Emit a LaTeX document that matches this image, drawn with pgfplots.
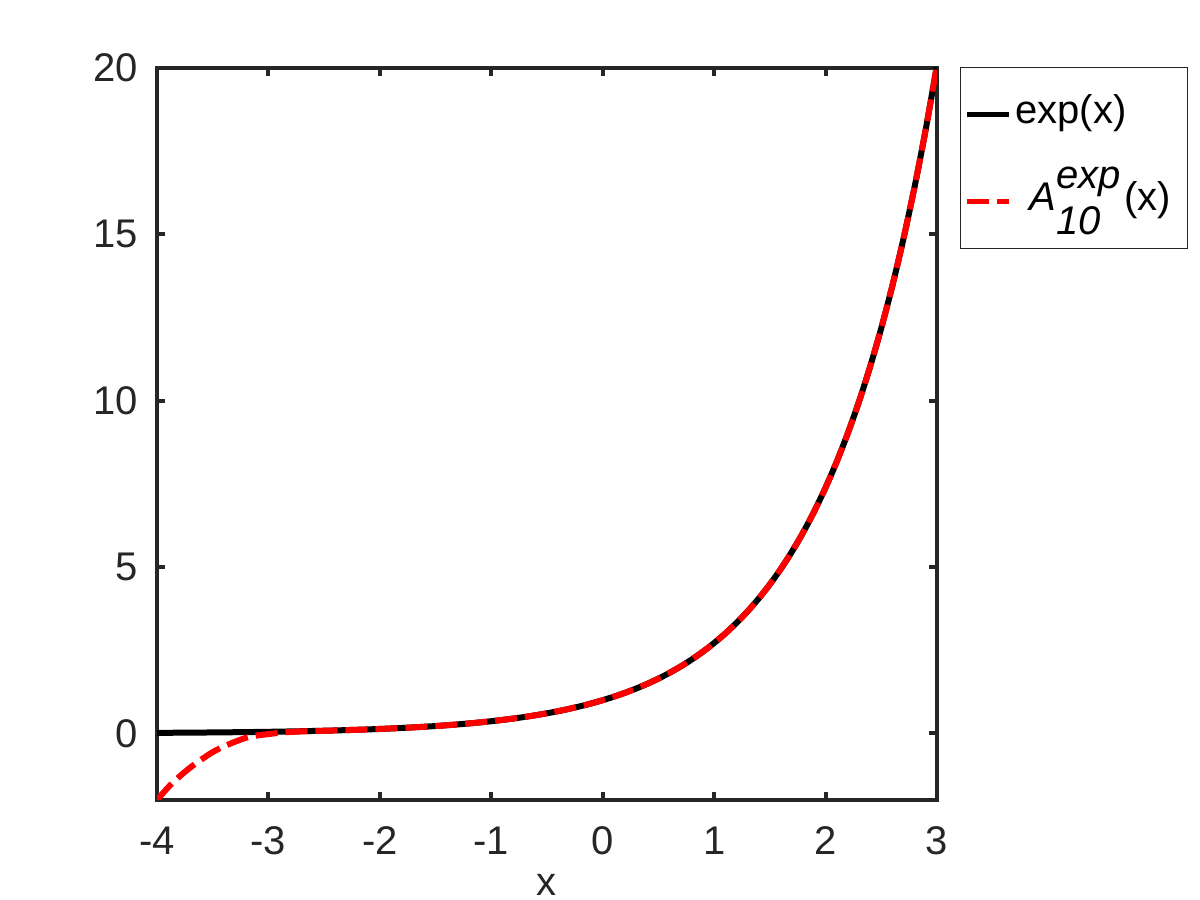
\documentclass[border=0pt]{standalone}
\usepackage{fontspec}
\setmainfont{Liberation Sans}
\usepackage{pgfplots}
\usepackage{pgfplotstable}
\pgfplotsset{compat=1.18}
\definecolor{axgray}{HTML}{262626}
\pgfplotstableread{
x e a
-4.0 0.0183 -2.00
-3.9 0.0202 -1.62
-3.8 0.0224 -1.30
-3.7 0.0247 -1.02
-3.6 0.0273 -0.78
-3.5 0.0302 -0.56
-3.4 0.0334 -0.39
-3.3 0.0369 -0.25
-3.2 0.0408 -0.13
-3.1 0.0450 -0.06
-3.0 0.0498 -0.02
-2.9 0.0550 0.020
-2.8 0.0608 0.045
-2.7 0.0672 0.061
-2.6 0.0743 0.073
-2.5 0.0821 0.0821
-2.4 0.0907 0.0907
-2.3 0.1003 0.1003
-2.2 0.1108 0.1108
-2.1 0.1225 0.1225
-2.0 0.1353 0.1353
-1.9 0.1496 0.1496
-1.8 0.1653 0.1653
-1.7 0.1827 0.1827
-1.6 0.2019 0.2019
-1.5 0.2231 0.2231
-1.4 0.2466 0.2466
-1.3 0.2725 0.2725
-1.2 0.3012 0.3012
-1.1 0.3329 0.3329
-1.0 0.3679 0.3679
-0.9 0.4066 0.4066
-0.8 0.4493 0.4493
-0.7 0.4966 0.4966
-0.6 0.5488 0.5488
-0.5 0.6065 0.6065
-0.4 0.6703 0.6703
-0.3 0.7408 0.7408
-0.2 0.8187 0.8187
-0.1 0.9048 0.9048
0.0 1.0000 1.0000
0.1 1.1052 1.1052
0.2 1.2214 1.2214
0.3 1.3499 1.3499
0.4 1.4918 1.4918
0.5 1.6487 1.6487
0.6 1.8221 1.8221
0.7 2.0138 2.0138
0.8 2.2255 2.2255
0.9 2.4596 2.4596
1.0 2.7183 2.7183
1.1 3.0042 3.0042
1.2 3.3201 3.3201
1.3 3.6693 3.6693
1.4 4.0552 4.0552
1.5 4.4817 4.4817
1.6 4.9530 4.9530
1.7 5.4739 5.4739
1.8 6.0496 6.0496
1.9 6.6859 6.6859
2.0 7.3891 7.3891
2.1 8.1662 8.1662
2.2 9.0250 9.0250
2.3 9.9742 9.9742
2.4 11.0232 11.0232
2.5 12.1825 12.1825
2.6 13.4637 13.4637
2.7 14.8797 14.8797
2.8 16.4446 16.4446
2.9 18.1741 18.1741
3.0 20.0855 20.0855
}\datatable
\begin{document}
\begin{tikzpicture}
\path[use as bounding box] (0pt,0pt) rectangle (600pt,450pt);
\begin{axis}[
  at={(78.5pt,50pt)}, anchor=south west,
  scale only axis, width=390pt, height=366pt,
  xmin=-4, xmax=3, ymin=-2, ymax=20,
  xtick={-4,-3,-2,-1,0,1,2,3},
  ytick={0,5,10,15,20},
  tick align=inside,
  major tick length=4pt,
  axis line style={axgray, line width=2pt},
  every tick/.style={axgray, line width=2pt},
  tick label style={font=\fontsize{20}{24}\selectfont, text=axgray},
  /pgf/number format/assume math mode=true,
  yticklabel style={xshift=-6pt},
  xticklabel style={yshift=-10pt},
  xlabel={x},
  xlabel style={font=\fontsize{20}{24}\selectfont, text=axgray, inner sep=0pt, at={(axis description cs:0.5,0)}, anchor=base, yshift=-48pt},
  legend style={at={(1.0295,1.001)}, anchor=north west, draw=axgray, line width=0.5pt,
     font=\fontsize{20}{24}\selectfont, inner xsep=2pt, inner ysep=9pt, row sep=14.5pt,
     cells={anchor=base west},
     nodes={inner xsep=2pt, inner ysep=0pt, text height=19pt, text depth=10pt}},
  legend image code/.code={\draw[#1, line width=2.5pt] (0pt,4.5pt) -- (21pt,4.5pt);},
  clip=true,
]
\addplot[black, line width=3pt, smooth] table[x=x, y=e] {\datatable};
\addlegendentry{exp(x)}
\addplot[red, line width=3pt, dash pattern=on 11pt off 4pt, smooth] table[x=x, y=a] {\datatable};
\addlegendentry{\hspace*{7pt}\itshape A\raisebox{-12pt}{\rlap{10}}\raisebox{11pt}{exp}\upshape\hspace{2pt}(x)\hspace*{4pt}}
\end{axis}
\end{tikzpicture}
\end{document}
